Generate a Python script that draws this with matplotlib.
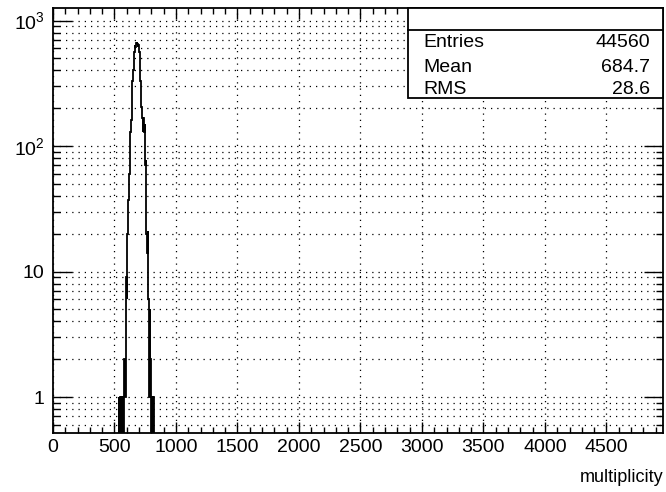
import numpy as np
import matplotlib.pyplot as plt
from matplotlib.patches import Rectangle
from matplotlib.ticker import LogLocator, MultipleLocator, NullFormatter

plt.rcParams['font.family'] = ['Liberation Sans', 'DejaVu Sans']
plt.rcParams['mathtext.fontset'] = 'custom'
plt.rcParams['mathtext.rm'] = 'Liberation Sans'
plt.rcParams['mathtext.it'] = 'Liberation Sans:italic'

# histogram: bins of 5 units starting at 535
bin_start = 535
bin_width = 5
counts = [1, 0, 1, 0, 1, 0, 1, 0, 1, 2,
          1, 2, 9, 6, 20, 37, 45, 60, 122, 130,
          160, 318, 330, 400, 531, 560, 640, 620, 660, 678,
          650, 610, 640, 560, 403, 330, 205, 190, 166, 130,
          166, 130, 150, 70, 78, 20, 14, 21, 6, 1,
          5, 2, 1, 0, 1, 0, 1, 1]

x_ticks = [0, 500, 1000, 1500, 2000, 2500, 3000, 3500, 4000, 4500]
y_ticks = [1, 10, 100, 1000]
y_labels = ['1', '10', '$10^{2}$', '$10^{3}$']

stat_names = ['Entries', 'Mean', 'RMS']
stat_values = ['44560', '684.7', '28.6']

edges = bin_start + bin_width * np.arange(len(counts) + 1)

fig = plt.figure(figsize=(6.66, 4.92), dpi=100)
ax = fig.add_axes([53/666, 59/492, 610/666, 425/492])

ax.stairs(np.maximum(counts, 0.1), edges, baseline=0.1, color='black', lw=1.3, zorder=3)

ax.set_yscale('log')
ax.set_xlim(0, 4960)
ax.set_ylim(0.517, 1259)

ax.set_xticks(x_ticks)
ax.set_xticklabels([str(v) for v in x_ticks])
ax.xaxis.set_minor_locator(MultipleLocator(100))
ax.set_yticks(y_ticks)
ax.set_yticklabels(y_labels)
ax.yaxis.set_minor_locator(LogLocator(base=10, subs=np.arange(2, 10)))
ax.yaxis.set_minor_formatter(NullFormatter())

ax.tick_params(which='both', direction='in', top=True, right=True, labelsize=14, width=1)
ax.tick_params(axis='x', which='major', length=8, pad=4)
ax.tick_params(axis='x', which='minor', length=4)
ax.tick_params(axis='y', which='major', length=14, pad=6)
ax.tick_params(axis='y', which='minor', length=5)

dots = (0, (1, 4))
ax.grid(True, axis='x', which='major', color='black', ls=dots, lw=0.9)
ax.grid(True, axis='y', which='both', color='black', ls=dots, lw=0.9)

for s in ax.spines.values():
    s.set_linewidth(1.3)

# stats box
ax.add_patch(Rectangle((0.582, 0.788), 0.418, 0.212, transform=ax.transAxes,
                       facecolor='white', edgecolor='black', lw=1.3, zorder=5, clip_on=False))
ax.plot([0.582, 1.0], [0.948, 0.948], transform=ax.transAxes, color='black', lw=1.3, zorder=6)
for i, (n, v) in enumerate(zip(stat_names, stat_values)):
    yy = [0.908, 0.849, 0.798][i]
    ax.text(0.607, yy, n, transform=ax.transAxes, fontsize=14, va='baseline', ha='left', zorder=7)
    ax.text(0.979, yy, v, transform=ax.transAxes, fontsize=14, va='baseline', ha='right', zorder=7)

fig.text(663/666, 1 - 478/492, 'multiplicity', ha='right', va='center', fontsize=13)

fig.savefig('out.png', dpi=100, facecolor='white')
